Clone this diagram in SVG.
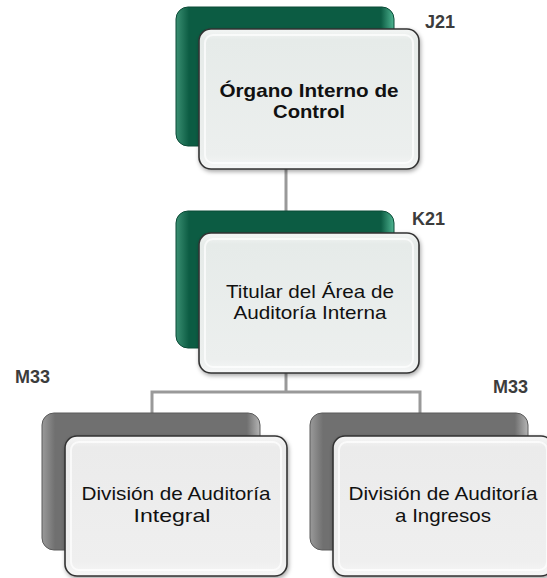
<svg xmlns="http://www.w3.org/2000/svg" width="547" height="578" viewBox="0 0 547 578">
<defs>
<linearGradient id="gGreen" x1="0" y1="0" x2="1" y2="0">
<stop offset="0" stop-color="#3a8f72"/>
<stop offset="0.06" stop-color="#0c5c43"/>
<stop offset="0.94" stop-color="#0c5c43"/>
<stop offset="1" stop-color="#4fb592"/>
</linearGradient>
<linearGradient id="gGray" x1="0" y1="0" x2="1" y2="0">
<stop offset="0" stop-color="#9a9a9a"/>
<stop offset="0.06" stop-color="#707070"/>
<stop offset="0.94" stop-color="#707070"/>
<stop offset="1" stop-color="#b5b5b5"/>
</linearGradient>
<linearGradient id="gFront" x1="0" y1="0" x2="0" y2="1">
<stop offset="0" stop-color="#f4f6f5"/>
<stop offset="0.08" stop-color="#e6ebe9"/>
<stop offset="0.9" stop-color="#ecefee"/>
<stop offset="1" stop-color="#f6f7f7"/>
</linearGradient>
<linearGradient id="gFront2" x1="0" y1="0" x2="0" y2="1">
<stop offset="0" stop-color="#f6f6f6"/>
<stop offset="0.08" stop-color="#ebebeb"/>
<stop offset="0.9" stop-color="#efefef"/>
<stop offset="1" stop-color="#f7f7f7"/>
</linearGradient>
<filter id="sh" x="-10%" y="-10%" width="125%" height="125%">
<feDropShadow dx="1" dy="2" stdDeviation="2" flood-color="#000" flood-opacity="0.35"/>
</filter>
</defs>
<style>
.back-g{fill:url(#gGreen);stroke:#0a4a36;stroke-width:1}
.back-y{fill:url(#gGray);stroke:#5a5a5a;stroke-width:1}
.front{fill:url(#gFront);stroke:#333;stroke-width:1.6;filter:url(#sh)}
.front2{fill:url(#gFront2);stroke:#333;stroke-width:1.6;filter:url(#sh)}
.inner{fill:none;stroke:#ffffff;stroke-opacity:0.7;stroke-width:2}
.t{font-family:"Liberation Sans",Arial,sans-serif;font-size:19px;fill:#111;text-anchor:middle}
.tb{font-weight:bold}
.lbl{font-family:"Liberation Sans",Arial,sans-serif;font-size:18px;font-weight:bold;fill:#3c3c3c}
.conn{fill:none;stroke:#999;stroke-width:3}
</style>
<g id="connectors">
<path class="conn" d="M286 169 V211"/>
<path class="conn" d="M286 373 V392 M152 413 V392 H420 V413"/>
</g>
<g id="node-j21">
<rect class="back-g" x="176" y="7" width="218" height="139" rx="12"/>
<rect class="front" x="199" y="29" width="220" height="140" rx="12"/>
<rect class="inner" x="205" y="35" width="208" height="128" rx="8"/>
<text class="t tb" x="309" y="97" textLength="179" lengthAdjust="spacingAndGlyphs">Órgano Interno de</text>
<text class="t tb" x="309" y="118" textLength="72" lengthAdjust="spacingAndGlyphs">Control</text>
<text class="lbl" x="425" y="28">J21</text>
</g>
<g id="node-k21">
<rect class="back-g" x="176" y="211" width="218" height="137" rx="12"/>
<rect class="front" x="199" y="233" width="220" height="140" rx="12"/>
<rect class="inner" x="205" y="239" width="208" height="128" rx="8"/>
<text class="t" x="310" y="298" textLength="168" lengthAdjust="spacingAndGlyphs">Titular del Área de</text>
<text class="t" x="310" y="319" textLength="153" lengthAdjust="spacingAndGlyphs">Auditoría Interna</text>
<text class="lbl" x="412" y="225">K21</text>
</g>
<g id="node-m33-left">
<rect class="back-y" x="42" y="413" width="218" height="137" rx="12"/>
<rect class="front2" x="65" y="436" width="222" height="140" rx="12"/>
<rect class="inner" x="71" y="442" width="210" height="128" rx="8"/>
<text class="t" x="176" y="500" textLength="189" lengthAdjust="spacingAndGlyphs">División de Auditoría</text>
<text class="t" x="172" y="522" textLength="77" lengthAdjust="spacingAndGlyphs">Integral</text>
<text class="lbl" x="15" y="383">M33</text>
</g>
<g id="node-m33-right">
<rect class="back-y" x="310" y="413" width="218" height="137" rx="12"/>
<rect class="front2" x="333" y="436" width="220" height="140" rx="12"/>
<rect class="inner" x="339" y="442" width="208" height="128" rx="8"/>
<text class="t" x="443" y="500" textLength="189" lengthAdjust="spacingAndGlyphs">División de Auditoría</text>
<text class="t" x="443" y="522" textLength="96" lengthAdjust="spacingAndGlyphs">a Ingresos</text>
<text class="lbl" x="493" y="393">M33</text>
</g>
</svg>
